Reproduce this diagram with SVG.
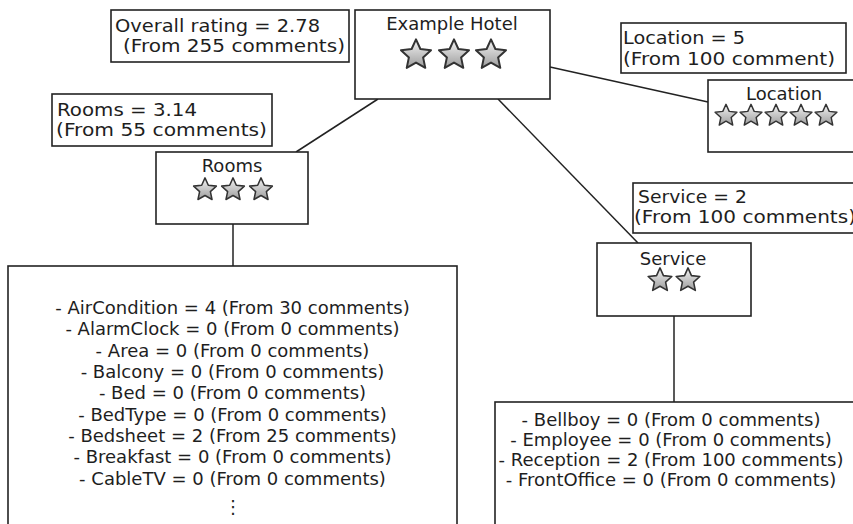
<svg xmlns="http://www.w3.org/2000/svg" xmlns:xlink="http://www.w3.org/1999/xlink" width="853" height="524" viewBox="0 0 853 524">
  <style>
    .box { fill: #ffffff; stroke: #222222; stroke-width: 1.6; }
    .conn { fill: none; stroke: #222222; stroke-width: 1.5; }
    text { font-family: "DejaVu Sans", Verdana, sans-serif; fill: #1e1e1e; }
    .lbl { font-size: 18px; }
    .title { font-size: 18px; text-anchor: middle; }
    .list { font-size: 18px; text-anchor: middle; }
  </style>
  <defs>
    <linearGradient id="starFill" x1="0" y1="0" x2="0" y2="1">
      <stop offset="0" stop-color="#f4f4f4"/>
      <stop offset="1" stop-color="#9c9c9c"/>
    </linearGradient>
    <symbol id="star" viewBox="-11.5 -11.5 23 21.5">
      <path d="M0,-11 L3.06,-4.21 L10.46,-3.4 L4.95,1.61 L6.47,8.9 L0,5.2 L-6.47,8.9 L-4.95,1.61 L-10.46,-3.4 L-3.06,-4.21 Z" fill="url(#starFill)" stroke="#333333" stroke-width="1.4" stroke-linejoin="round"/>
    </symbol>
  </defs>

  <rect width="853" height="524" fill="#ffffff"/>

  <!-- connectors -->
  <g id="connectors">
    <line class="conn" x1="378" y1="99" x2="296" y2="152"/>
    <line class="conn" x1="498" y1="99" x2="638" y2="243"/>
    <line class="conn" x1="550" y1="67" x2="708" y2="102"/>
    <line class="conn" x1="233" y1="224" x2="233" y2="266"/>
    <line class="conn" x1="674" y1="316" x2="674" y2="402"/>
  </g>

  <!-- rating labels -->
  <g id="label-overall">
    <rect class="box" x="111" y="10" width="238" height="52"/>
    <text class="lbl" x="115" y="32" textLength="205" lengthAdjust="spacingAndGlyphs">Overall rating = 2.78</text>
    <text class="lbl" x="123" y="52" textLength="222" lengthAdjust="spacingAndGlyphs">(From 255 comments)</text>
  </g>
  <g id="label-location">
    <rect class="box" x="621" y="23" width="225" height="50"/>
    <text class="lbl" x="623" y="44" textLength="122" lengthAdjust="spacingAndGlyphs">Location = 5</text>
    <text class="lbl" x="623" y="65" textLength="212" lengthAdjust="spacingAndGlyphs">(From 100 comment)</text>
  </g>
  <g id="label-rooms">
    <rect class="box" x="52" y="94" width="220" height="52"/>
    <text class="lbl" x="57" y="116" textLength="140" lengthAdjust="spacingAndGlyphs">Rooms = 3.14</text>
    <text class="lbl" x="56" y="136" textLength="211" lengthAdjust="spacingAndGlyphs">(From 55 comments)</text>
  </g>
  <g id="label-service">
    <rect class="box" x="633" y="183" width="230" height="50"/>
    <text class="lbl" x="638" y="203" textLength="109" lengthAdjust="spacingAndGlyphs">Service = 2</text>
    <text class="lbl" x="634" y="223" textLength="222" lengthAdjust="spacingAndGlyphs">(From 100 comments)</text>
  </g>

  <!-- hotel node -->
  <g id="node-hotel">
    <rect class="box" x="355" y="10" width="195" height="89"/>
    <text class="title" x="452" y="30">Example Hotel</text>
    <use xlink:href="#star" x="399.5" y="38" width="33" height="32"/>
    <use xlink:href="#star" x="437.5" y="38" width="33" height="32"/>
    <use xlink:href="#star" x="474.5" y="38" width="33" height="32"/>
  </g>

  <!-- category nodes -->
  <g id="node-rooms">
    <rect class="box" x="156" y="152" width="152" height="72"/>
    <text class="title" x="232" y="172">Rooms</text>
    <use xlink:href="#star" x="192.5" y="177" width="25" height="24"/>
    <use xlink:href="#star" x="220.5" y="177" width="25" height="24"/>
    <use xlink:href="#star" x="248.5" y="177" width="25" height="24"/>
  </g>
  <g id="node-location">
    <rect class="box" x="708" y="80" width="152" height="72"/>
    <text class="title" x="784" y="100">Location</text>
    <use xlink:href="#star" x="714" y="103" width="24" height="24"/>
    <use xlink:href="#star" x="739" y="103" width="24" height="24"/>
    <use xlink:href="#star" x="764" y="103" width="24" height="24"/>
    <use xlink:href="#star" x="789" y="103" width="24" height="24"/>
    <use xlink:href="#star" x="814" y="103" width="24" height="24"/>
  </g>
  <g id="node-service">
    <rect class="box" x="597" y="243" width="154" height="73"/>
    <text class="title" x="673" y="265">Service</text>
    <use xlink:href="#star" x="647" y="267" width="26" height="25"/>
    <use xlink:href="#star" x="675" y="267" width="26" height="25"/>
  </g>

  <!-- detail lists -->
  <g id="list-rooms">
    <rect class="box" x="8" y="266" width="449" height="270"/>
    <text class="list" x="232.5" y="314">- AirCondition = 4 (From 30 comments)</text>
    <text class="list" x="232.5" y="335.3">- AlarmClock = 0 (From 0 comments)</text>
    <text class="list" x="232.5" y="356.6">- Area = 0 (From 0 comments)</text>
    <text class="list" x="232.5" y="378">- Balcony = 0 (From 0 comments)</text>
    <text class="list" x="232.5" y="399.3">- Bed = 0 (From 0 comments)</text>
    <text class="list" x="232.5" y="420.6">- BedType = 0 (From 0 comments)</text>
    <text class="list" x="232.5" y="442">- Bedsheet = 2 (From 25 comments)</text>
    <text class="list" x="232.5" y="463.3">- Breakfast = 0 (From 0 comments)</text>
    <text class="list" x="232.5" y="484.6">- CableTV = 0 (From 0 comments)</text>
    <text class="list" x="233" y="513">⋮</text>
  </g>
  <g id="list-service">
    <rect class="box" x="495" y="402" width="370" height="140"/>
    <text class="list" x="671" y="426">- Bellboy = 0 (From 0 comments)</text>
    <text class="list" x="671" y="446">- Employee = 0 (From 0 comments)</text>
    <text class="list" x="671" y="466">- Reception = 2 (From 100 comments)</text>
    <text class="list" x="671" y="486">- FrontOffice = 0 (From 0 comments)</text>
  </g>
</svg>
